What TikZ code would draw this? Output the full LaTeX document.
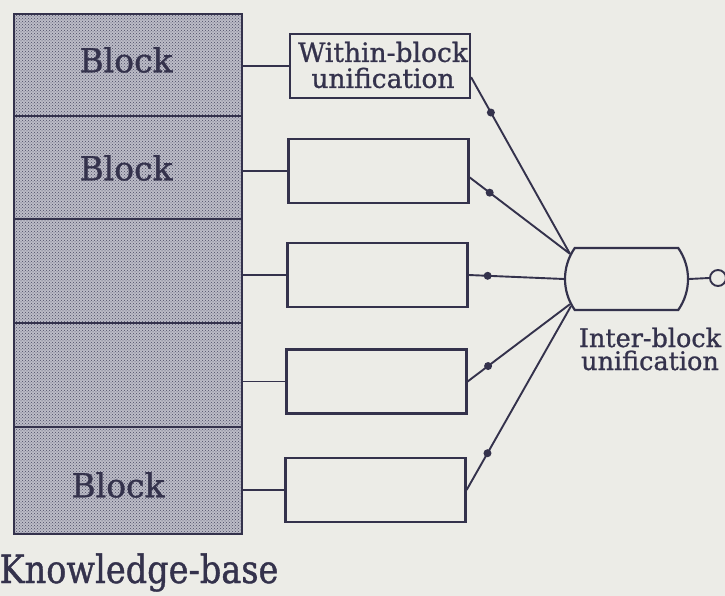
\documentclass[tikz,border=0pt]{standalone}
\usepackage{fontspec}
\setmainfont{DejaVu Serif}[FakeBold=1]
\newfontfamily\narrowserif{DejaVu Serif}[FakeStretch=0.86, FakeBold=1]
\usetikzlibrary{shapes.misc,patterns,calc}
\definecolor{ink}{RGB}{52,50,76}
\definecolor{paper}{RGB}{236,236,231}
\definecolor{stip}{RGB}{188,188,199}
\definecolor{dotc}{RGB}{74,74,100}

\tikzset{
  kb/.style={draw=ink, line width=2.4pt, preaction={fill=stip},
    pattern=crosshatch dots, pattern color=dotc,
    minimum width=228pt, inner sep=0pt},
  blk/.style={font=\fontsize{33}{36}\selectfont, text=ink, inner sep=0pt},
  wbox/.style={draw=ink, line width=2.2pt, minimum width=180pt,
    minimum height=64pt, inner sep=0pt},
  wtext/.style={align=center, text=ink, font=\fontsize{26.5}{26}\selectfont},
  ibox/.style={draw=ink, line width=2.2pt, rounded rectangle,
    rounded rectangle arc length=70, minimum width=123pt,
    minimum height=62pt, inner sep=0pt},
  conn/.style={draw=ink, line width=1.9pt},
  jdot/.style={circle, fill=ink, inner sep=0pt, minimum size=8pt},
}

\begin{document}
\begin{tikzpicture}[x=1pt,y=-1pt]
  % page
  \path[fill=paper] (0,0) rectangle (725,596);
  \useasboundingbox (0,0) rectangle (725,596);

  % the knowledge-base: a stack of five blocks
  \node[kb, minimum height=102pt] (k1) at (128,65) {};
  \node[kb, minimum height=103pt] (k2) at (128,167.5) {};
  \node[kb, minimum height=104pt] (k3) at (128,271) {};
  \node[kb, minimum height=104pt] (k4) at (128,375) {};
  \node[kb, minimum height=107pt] (k5) at (128,480.5) {};
  \node[blk] (t1) at (126,60) {Block};
  \node[blk] (t2) at (126,168) {Block};
  \node[blk] (t5) at (118,485) {Block};
  \node[font=\narrowserif\fontsize{39}{42}\selectfont, text=ink, inner sep=0pt,
        anchor=base] (kbl) at (139,583) {Knowledge-base};

  % within-block unification boxes
  \node[wbox] (b1) at (380,66) {};
  \node[wtext] (w1) at (383,65) {Within-block\\unification};
  \node[wbox] (b2) at (378.5,171) {};
  \node[wbox] (b3) at (377.5,275) {};
  \node[wbox] (b4) at (376.5,381.5) {};
  \node[wbox] (b5) at (375.5,490) {};

  % links from each block to its unification box
  \foreach \i in {1,...,5}{
    \draw[conn] (b\i.west) -- (b\i.west -| k\i.east);
  }

  % inter-block unification
  \node[ibox] (ib) at (626.5,279) {};
  \node[circle, draw=ink, line width=1.9pt, minimum size=16pt, inner sep=0pt]
    (out) at (718,278) {};
  \draw[conn] (ib.east) -- (out.west);
  \node[align=center, text=ink, font=\fontsize{25.5}{23}\selectfont, anchor=base,
        inner sep=0pt] (ibl) at (650,370) {Inter-block\\unification};

  % converging connectors with junction dots
  \draw[conn] (b1.-7) -- node[jdot,pos=0.2] (d1) {} (ib.156);
  \draw[conn] (b2.-4) -- node[jdot,pos=0.2] (d2) {} (ib.156);
  \draw[conn] (b3.east) -- node[jdot,pos=0.2] (d3) {} (ib.west);
  \draw[conn] (b4.east) -- node[jdot,pos=0.2] (d4) {} (ib.204);
  \draw[conn] (b5.east) -- node[jdot,pos=0.2] (d5) {} (ib.206);
\end{tikzpicture}
\end{document}
